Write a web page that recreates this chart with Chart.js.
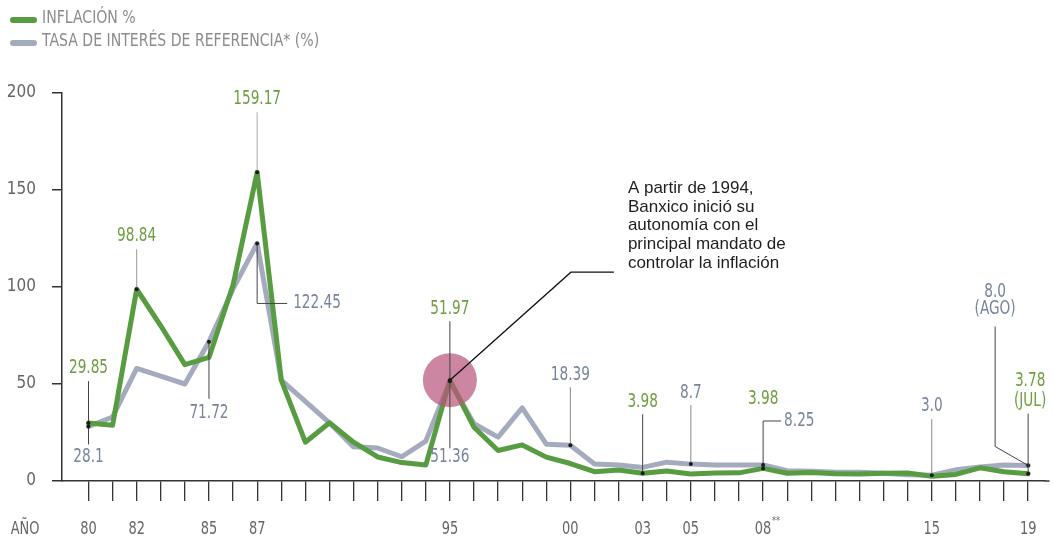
<!DOCTYPE html>
<html>
<head>
<meta charset="utf-8">
<script src="https://cdn.jsdelivr.net/npm/chart.js@4.4.1/dist/chart.umd.min.js"></script>
<style>
  html, body { margin: 0; padding: 0; background: #ffffff; }
  #wrap { width: 1053px; height: 538px; position: relative; }
</style>
</head>
<body>
<div id="wrap"><canvas id="c" width="1053" height="538"></canvas></div>
<script>
// ---- Data ----
const years = [1980,1981,1982,1983,1984,1985,1986,1987,1988,1989,1990,1991,1992,1993,1994,1995,1996,1997,1998,1999,
               2000,2001,2002,2003,2004,2005,2006,2007,2008,2009,2010,2011,2012,2013,2014,2015,2016,2017,2018,2019];
const inflation = [29.85,28.7,98.84,80,60,63.7,101,159.17,52,20,30,20,12.4,9.5,8.2,51.97,27.7,15.7,18.6,12.3,
                   9.0,4.8,5.7,3.98,5.2,3.6,4.1,4.2,6.5,4.0,4.4,3.8,3.6,4.0,4.1,2.4,3.4,6.8,4.8,3.78];
const rate = [28.1,33,58,54,50,71.72,99,122.45,52,41,30,17.6,17,12.5,20.6,51.36,29.5,22.6,37.7,19,
              18.39,8.8,8.3,7,9.7,8.7,8.2,8.2,8.25,5.3,5,4.5,4.5,4,3.2,3.0,5.75,7.25,8.25,8.0];
const xTickLabels = {1980:'80',1982:'82',1985:'85',1987:'87',1995:'95',2000:'00',2003:'03',2005:'05',2008:'08',2015:'15',2019:'19'};
const yTicks = [0,50,100,150,200];
const legendLabels = ['INFLACIÓN %','TASA DE INTERÉS DE REFERENCIA* (%)'];
const axisTitle = 'AÑO';
const calloutText = ['A partir de 1994,','Banxico inició su','autonomía con el','principal mandato de','controlar la inflación'];

// value annotations: year, series, label text
const annotations = [
  {year:1980, s:'inf',  text:['29.85']},
  {year:1980, s:'rate', text:['28.1']},
  {year:1982, s:'inf',  text:['98.84']},
  {year:1987, s:'inf',  text:['159.17']},
  {year:1987, s:'rate', text:['122.45']},
  {year:1985, s:'rate', text:['71.72']},
  {year:1995, s:'inf',  text:['51.97']},
  {year:1995, s:'rate', text:['51.36']},
  {year:2000, s:'rate', text:['18.39']},
  {year:2003, s:'inf',  text:['3.98']},
  {year:2005, s:'rate', text:['8.7']},
  {year:2008, s:'inf',  text:['3.98']},
  {year:2008, s:'rate', text:['8.25']},
  {year:2015, s:'rate', text:['3.0']},
  {year:2019, s:'rate', text:['8.0','(AGO)']},
  {year:2019, s:'inf',  text:['3.78','(JUL)']}
];
// layout of each annotation (leader path and text offsets, relative to the point)
const annLayout = [
  {path:[[0,0],[0,-42]], tx:0, ty:-55, align:'center'},
  {path:[[0,0],[0,18]],  tx:0, ty:31,  align:'center'},
  {path:[[0,0],[0,-40]], tx:0, ty:-53, align:'center', lc:'#999'},
  {path:[[0,0],[0,-60]], tx:0, ty:-73, align:'center', lc:'#aaa'},
  {path:[[0,0],[0,60],[30,60]], tx:36, ty:60, align:'left'},
  {path:[[0,0],[0,57]],  tx:0, ty:71,  align:'center'},
  {path:[[0,0],[0,-59]], tx:0, ty:-71, align:'center'},
  {path:[[0,0],[0,67]],  tx:0, ty:76,  align:'center'},
  {path:[[0,0],[0,-58]], tx:0, ty:-70, align:'center', lc:'#888'},
  {path:[[0,0],[0,-59]], tx:0, ty:-71, align:'center'},
  {path:[[0,0],[0,-59]], tx:0, ty:-71, align:'center', lc:'#888'},
  {path:null,            tx:0, ty:-69, align:'center'},
  {path:[[0,0],[0,-44],[18,-44]], tx:21, ty:-44, align:'left'},
  {path:[[0,0],[0,-56]], tx:0, ty:-69, align:'center', lc:'#888'},
  {path:[[0,0],[-33,-19],[-33,-139]], tx:-33, ty:-173, align:'center', lh:17},
  {path:[[0,0],[0,-60]], tx:2, ty:-93, align:'center', lh:20}
];

const GREEN = '#579c40';
const GRAY = '#a5abbe';
const GREEN_TXT = '#6f9d42';
const GRAY_TXT = '#77849b';
const COND = '"DejaVu Sans Condensed", "DejaVu Sans", sans-serif';

function condText(ctx, t, x, y, align, sx) {
  ctx.save();
  ctx.translate(x, y);
  ctx.scale(sx, 1);
  ctx.textAlign = align;
  ctx.textBaseline = 'middle';
  ctx.fillText(t, 0, 0);
  ctx.restore();
}

const annotPlugin = {
  id: 'annot',
  afterDatasetsDraw(chart) {
    const ctx = chart.ctx;
    const xs = chart.scales.x, ys = chart.scales.y;
    const px = (yr) => xs.getPixelForValue(yr);
    const py = (v) => ys.getPixelForValue(v);
    ctx.save();
    // pink circle at 1995
    const i95 = years.indexOf(1995);
    const cx = px(1995), cy = py(inflation[i95]);
    ctx.fillStyle = 'rgba(185,88,125,0.72)';
    ctx.beginPath(); ctx.arc(cx, cy, 27, 0, Math.PI*2); ctx.fill();
    // callout leader
    ctx.strokeStyle = '#111'; ctx.lineWidth = 1.3;
    ctx.beginPath(); ctx.moveTo(cx, cy); ctx.lineTo(cx+121, cy-108); ctx.lineTo(cx+164, cy-108); ctx.stroke();
    ctx.fillStyle = '#1e1e1e';
    ctx.font = '17px "Liberation Sans", Arial, sans-serif';
    ctx.textAlign = 'left'; ctx.textBaseline = 'middle';
    calloutText.forEach((t, k) => ctx.fillText(t, cx+178, cy-192+k*18.8));

    // value annotations
    annotations.forEach((a, k) => {
      const L = annLayout[k];
      const idx = years.indexOf(a.year);
      const v = a.s === 'inf' ? inflation[idx] : rate[idx];
      const x0 = px(a.year), y0 = py(v);
      if (L.path) {
        ctx.strokeStyle = L.lc || '#444'; ctx.lineWidth = 1;
        ctx.beginPath();
        L.path.forEach((p, j) => { if (j===0) ctx.moveTo(x0+p[0], y0+p[1]); else ctx.lineTo(x0+p[0], y0+p[1]); });
        ctx.stroke();
      }
      ctx.fillStyle = '#1a1a1a';
      ctx.beginPath(); ctx.arc(x0, y0, 2, 0, Math.PI*2); ctx.fill();
      ctx.fillStyle = a.s === 'inf' ? GREEN_TXT : GRAY_TXT;
      ctx.font = '19px ' + COND;
      const lh = L.lh || 18;
      a.text.forEach((t, j) => condText(ctx, t, x0+L.tx, y0+L.ty+j*lh, L.align, 0.8));
    });
    ctx.restore();
  },
  afterDraw(chart) {
    const ctx = chart.ctx;
    const xs = chart.scales.x;
    ctx.save();
    // legend
    const cols = [GREEN, '#a3abbd'];
    cols.forEach((c, k) => {
      const y = 19 + k*23;
      ctx.strokeStyle = c; ctx.lineWidth = 6; ctx.lineCap = 'round';
      ctx.beginPath(); ctx.moveTo(13, y+1); ctx.lineTo(34, y+1); ctx.stroke();
      ctx.fillStyle = '#8c8c8c';
      ctx.font = '17px ' + COND;
      condText(ctx, legendLabels[k], 42, y, 'left', 0.92);
    });
    // x axis extension to the right
    ctx.strokeStyle = '#333'; ctx.lineWidth = 1.5;
    const by = chart.chartArea.bottom;
    ctx.beginPath(); ctx.moveTo(chart.chartArea.right, by); ctx.lineTo(chart.chartArea.right + 4, by); ctx.stroke();
    // x tick labels + axis title
    ctx.fillStyle = '#666';
    ctx.font = '18px ' + COND;
    condText(ctx, axisTitle, 25, 529, 'center', 0.8);
    Object.keys(xTickLabels).forEach(k => {
      const x = xs.getPixelForValue(+k);
      condText(ctx, xTickLabels[k], x, 529, 'center', 0.8);
      if (+k === 2008) {
        ctx.font = '10px ' + COND;
        condText(ctx, '**', x + 13, 521, 'center', 0.9);
        ctx.font = '18px ' + COND;
      }
    });
    ctx.restore();
  }
};

new Chart(document.getElementById('c'), {
  type: 'line',
  data: {
    datasets: [
      { label: legendLabels[0], data: years.map((y,i)=>({x:y, y:inflation[i]})),
        borderColor: GREEN, borderWidth: 5, pointRadius: 0, tension: 0,
        borderJoinStyle: 'round', borderCapStyle: 'round', fill: false },
      { label: legendLabels[1], data: years.map((y,i)=>({x:y, y:rate[i]})),
        borderColor: GRAY, borderWidth: 5, pointRadius: 0, tension: 0,
        borderJoinStyle: 'round', borderCapStyle: 'round', fill: false }
    ]
  },
  options: {
    responsive: false,
    animation: false,
    layout: { padding: { top: 93, right: 8, left: 0, bottom: 0 } },
    plugins: { legend: { display: false }, tooltip: { enabled: false } },
    scales: {
      x: {
        type: 'linear', min: 1978.9, max: 2019.7,
        afterBuildTicks: (s) => { s.ticks = years.map(v => ({value: v})); },
        afterFit: (s) => { s.height = 57; },
        ticks: { display: false },
        grid: { drawOnChartArea: false, drawTicks: true, tickLength: 20, color: '#333', lineWidth: 1.3 },
        border: { display: true, color: '#333', width: 1.5 }
      },
      y: {
        min: 0, max: 200,
        afterBuildTicks: (s) => { s.ticks = yTicks.map(v => ({value: v})); },
        afterFit: (s) => { s.width = 62; },
        ticks: { padding: 16, color: '#666', font: { family: COND, size: 17 } },
        grid: { drawOnChartArea: false, drawTicks: true, tickLength: 10, color: '#333', lineWidth: 1.5 },
        border: { display: true, color: '#333', width: 1.5 }
      }
    }
  },
  plugins: [annotPlugin]
});
</script>
</body>
</html>
